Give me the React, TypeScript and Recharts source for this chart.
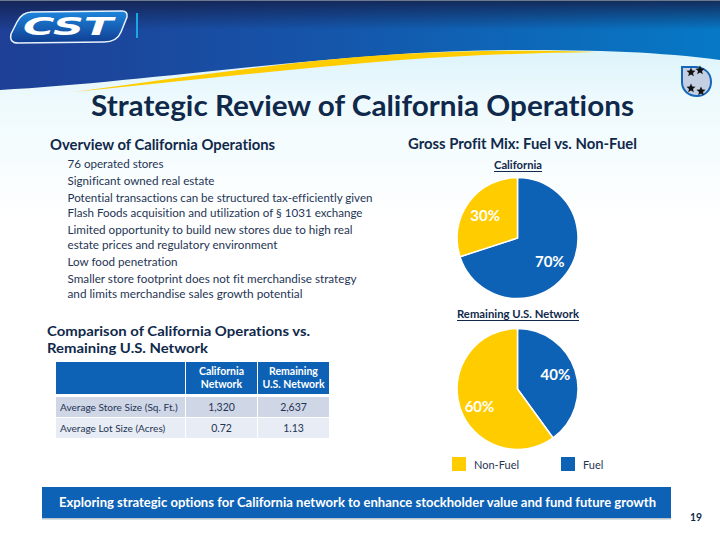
import { Cell, Legend, Pie, PieChart } from "recharts";

const mixNames = ["Fuel", "Non-Fuel"];
const californiaMix = [70, 30];
const remainingMix = [40, 60];

const overviewLines = [
  "76 operated stores",
  "Significant owned real estate",
  "Potential transactions can be structured tax-efficiently given",
  "Flash Foods acquisition and utilization of § 1031 exchange",
  "Limited opportunity to build new stores due to high real",
  "estate prices and regulatory environment",
  "Low food penetration",
  "Smaller store footprint does not fit merchandise strategy",
  "and limits merchandise sales growth potential",
];
const overviewBaselines = [168, 185, 202, 217, 234, 249, 266, 283, 298];
const overviewWidths = [96, 147, 305, 295, 285, 210, 110, 289, 235];

const rowLabels = ["Average Store Size (Sq. Ft.)", "Average Lot Size (Acres)"];
const californiaValues = ["1,320", "0.72"];
const remainingValues = ["2,637", "1.13"];

const BLUE = "#0e62b6";
const YELLOW = "#ffcc00";
const NAVY = "#10294b";
const BODY = "#1f3555";
const FONT = "Lato, 'Noto Sans', sans-serif";
const colors: Record<string, string> = { Fuel: BLUE, "Non-Fuel": YELLOW };
const starCenters = [
  [691, 72],
  [700, 70],
  [691, 88],
  [701, 91],
];

const toRows = (values: number[]) =>
  mixNames.map((name, i) => ({ name, value: values[i] }));

// percent text sits inside the slice, about 2/3 of the way out.
// the reference places them by hand so each pie gets a small vertical nudge
const sliceLabel = (nudge: number[]) => (props: any) => {
  const { cx, cy, midAngle, outerRadius, value, index } = props;
  const r = outerRadius * 0.66;
  const a = (-midAngle * Math.PI) / 180;
  return (
    <text
      x={cx + r * Math.cos(a)}
      y={cy + r * Math.sin(a) + nudge[index]}
      fill="#fff"
      textAnchor="middle"
      dominantBaseline="central"
      fontFamily={FONT}
      fontWeight={700}
      fontSize={15}
    >
      {`${value}%`}
    </text>
  );
};

function MixLegend({ payload }: any) {
  const items = [...(payload ?? [])].reverse();
  const lefts = [52, 161];
  return (
    <div>
      {items.map((item: any, i: number) => (
        <div
          key={item.value}
          style={{
            position: "absolute",
            left: lefts[i],
            top: 138,
            display: "flex",
            alignItems: "center",
            fontFamily: FONT,
            fontSize: 11,
            color: BODY,
          }}
        >
          <span
            style={{
              width: 14,
              height: 14,
              marginRight: 8,
              background: colors[item.value],
              display: "inline-block",
            }}
          />
          {item.value}
        </div>
      ))}
    </div>
  );
}

function mixPie(rows: { name: string; value: number }[], nudge: number[]) {
  return (
    <Pie
      data={rows}
      dataKey="value"
      nameKey="name"
      cx={117.5}
      cy={70}
      outerRadius={60.5}
      startAngle={90}
      endAngle={-270}
      stroke="#fff"
      strokeWidth={1.5}
      labelLine={false}
      label={sliceLabel(nudge)}
      isAnimationActive={false}
    >
      {rows.map((row) => (
        <Cell key={row.name} fill={colors[row.name]} />
      ))}
    </Pie>
  );
}

function Fit({ x, y, w, size, bold, fill, anchor, children }: any) {
  return (
    <text
      x={x}
      y={y}
      fontFamily={FONT}
      fontSize={size}
      fontWeight={bold ? 700 : 400}
      fill={fill ?? BODY}
      textAnchor={anchor ?? "start"}
      textLength={w}
      lengthAdjust="spacingAndGlyphs"
    >
      {children}
    </text>
  );
}

function Backdrop() {
  return (
    <svg
      width={720}
      height={540}
      style={{ position: "absolute", left: 0, top: 0 }}
    >
      <defs>
        <linearGradient id="band" x1="0" x2="1" y1="0" y2="0">
          <stop offset="0" stopColor="#1e3f95" />
          <stop offset="0.45" stopColor="#1555aa" />
          <stop offset="1" stopColor="#0679c6" />
        </linearGradient>
        <linearGradient id="shade" x1="0" x2="0" y1="0" y2="1">
          <stop offset="0" stopColor="#14224f" stopOpacity="0.9" />
          <stop offset="1" stopColor="#14224f" stopOpacity="0" />
        </linearGradient>
        <linearGradient id="pale" x1="0" x2="0" y1="0" y2="1">
          <stop offset="0" stopColor="#dcf4fb" />
          <stop offset="0.3" stopColor="#eefafd" />
          <stop offset="1" stopColor="#ffffff" />
        </linearGradient>
        <linearGradient id="badge" x1="0" x2="0" y1="0" y2="1">
          <stop offset="0" stopColor="#1c86dc" />
          <stop offset="1" stopColor="#103d92" />
        </linearGradient>
        <path
          id="star"
          d="M0,-4.5 L1.3,-1.5 L4.5,-1.3 L2,1 L2.8,4.3 L0,2.5 L-2.8,4.3 L-2,1 L-4.5,-1.3 L-1.3,-1.5 Z"
        />
      </defs>
      <rect x={0} y={0} width={720} height={540} fill="#fff" />
      <rect x={0} y={50} width={720} height={170} fill="url(#pale)" />
      <path
        d="M0,90 C150,82 350,50 514,50 C600,50 660,52 720,60 L720,0 L0,0 Z"
        fill="url(#band)"
      />
      <rect x={0} y={0} width={720} height={30} fill="url(#shade)" />
      <rect x={0} y={0} width={720} height={1} fill="#6b7a8c" />
      <path
        d="M73,92 C200,75 300,60 400,54 C470,50 540,50 597,52 C530,53 470,55 400,60 C300,68 190,80 73,92 Z"
        fill={YELLOW}
      />
      <path
        d="M30,12 L122,11 Q128,11 127,17 L121,32 Q117,42 104,42 L18,43 Q9,43 11,34 L17,22 Q22,12 32,12 Z"
        fill="url(#badge)"
        stroke="#e8f2fb"
        strokeWidth={1.5}
      />
      <text
        x={23}
        y={35}
        fontFamily="'DejaVu Sans', sans-serif"
        fontWeight={700}
        fontStyle="italic"
        fontSize={25}
        fill="#fff"
        textLength={90}
        lengthAdjust="spacingAndGlyphs"
      >
        CST
      </text>
      <rect x={136} y={13} width={2} height={25} fill="#19a7e6" />
      <path
        d="M682,67 L696,67 C706,68 711,74 711,82 C711,91 704,96 697,96 C688,96 682,90 682,82 Z"
        fill="#c5cfe3"
        stroke="#1466b8"
        strokeWidth={2}
      />
      {starCenters.map(([sx, sy]) => (
        <use key={`${sx}-${sy}`} href="#star" x={sx} y={sy} fill="#111" />
      ))}
      <rect x={42} y={487} width={629} height={31} fill={BLUE} />
      <rect x={42} y={518} width={629} height={1.5} fill="#b8c2cc" />
    </svg>
  );
}

function Overlay() {
  return (
    <svg
      width={720}
      height={540}
      style={{ position: "absolute", left: 0, top: 0, pointerEvents: "none" }}
    >
      <Fit x={91} y={116} w={543} size={29} bold fill={NAVY}>
        Strategic Review of California Operations
      </Fit>
      <Fit x={50} y={150} w={225} size={14.5} bold fill={NAVY}>
        Overview of California Operations
      </Fit>
      <Fit x={408} y={149} w={229} size={14.5} bold fill={NAVY}>
        Gross Profit Mix: Fuel vs. Non-Fuel
      </Fit>
      {overviewLines.map((line, i) => (
        <Fit key={line} x={67.5} y={overviewBaselines[i]} w={overviewWidths[i]} size={11.3}>
          {line}
        </Fit>
      ))}
      <Fit x={47} y={335.5} w={263} size={14} bold fill={NAVY}>
        Comparison of California Operations vs.
      </Fit>
      <Fit x={47} y={352.5} w={161} size={14} bold fill={NAVY}>
        Remaining U.S. Network
      </Fit>
      <Fit x={494} y={169} w={48} size={11} bold fill={NAVY}>
        California
      </Fit>
      <rect x={494} y={171} width={48} height={1} fill={NAVY} />
      <Fit x={457} y={318} w={122} size={11} bold fill={NAVY}>
        Remaining U.S. Network
      </Fit>
      <rect x={457} y={320} width={122} height={1} fill={NAVY} />
      <Fit x={59} y={507} w={597} size={13.5} bold fill="#fff">
        Exploring strategic options for California network to enhance stockholder value and fund future growth
      </Fit>
      <Fit x={690} y={521} w={12} size={11} bold fill={NAVY}>
        19
      </Fit>
    </svg>
  );
}

function CompareTable() {
  const cell = {
    fontFamily: FONT,
    fontSize: 10.5,
    padding: 0,
    textAlign: "center" as const,
    color: BODY,
  };
  const head = {
    ...cell,
    background: BLUE,
    color: "#fff",
    fontWeight: 700,
    lineHeight: "13px",
    height: 32,
    borderBottom: "3px solid #fff",
  };
  return (
    <table
      style={{
        position: "absolute",
        left: 56,
        top: 362,
        width: 273,
        tableLayout: "fixed",
        borderCollapse: "separate",
        borderSpacing: 0,
      }}
    >
      <colgroup>
        <col style={{ width: 130 }} />
        <col style={{ width: 72 }} />
        <col style={{ width: 71 }} />
      </colgroup>
      <thead>
        <tr>
          <th style={{ ...head, borderRight: "1px solid #fff" }} />
          <th style={{ ...head, borderRight: "1px solid #fff" }}>
            California
            <br />
            Network
          </th>
          <th style={head}>
            Remaining
            <br />
            U.S. Network
          </th>
        </tr>
      </thead>
      <tbody>
        {rowLabels.map((label, i) => {
          const bg = i === 0 ? "#cfd6e6" : "#e8ecf4";
          const c = {
            ...cell,
            background: bg,
            height: 20,
            borderBottom: i === 0 ? "1px solid #fff" : undefined,
          };
          return (
            <tr key={label}>
              <td
                style={{
                  ...c,
                  fontSize: 10.1,
                  textAlign: "left",
                  paddingLeft: 4,
                  borderRight: "1px solid #fff",
                }}
              >
                {label}
              </td>
              <td style={{ ...c, borderRight: "1px solid #fff" }}>
                {californiaValues[i]}
              </td>
              <td style={c}>{remainingValues[i]}</td>
            </tr>
          );
        })}
      </tbody>
    </table>
  );
}

export default function App() {
  return (
    <div
      style={{
        position: "absolute",
        left: 0,
        top: 0,
        width: 720,
        height: 540,
        overflow: "hidden",
        fontVariantLigatures: "none",
      }}
    >
      <Backdrop />
      <div style={{ position: "absolute", left: 400, top: 168 }}>
        <PieChart width={240} height={140} margin={{ top: 0, right: 0, bottom: 0, left: 0 }}>
          {mixPie(toRows(californiaMix), [0, 0])}
        </PieChart>
      </div>
      <div style={{ position: "absolute", left: 400, top: 319 }}>
        <PieChart width={240} height={165} margin={{ top: 0, right: 0, bottom: 0, left: 0 }}>
          {mixPie(toRows(remainingMix), [-3, 5])}
          <Legend
            content={<MixLegend />}
            wrapperStyle={{ position: "absolute", left: 0, top: 0, width: 240, height: 165 }}
          />
        </PieChart>
      </div>
      <CompareTable />
      <Overlay />
    </div>
  );
}
